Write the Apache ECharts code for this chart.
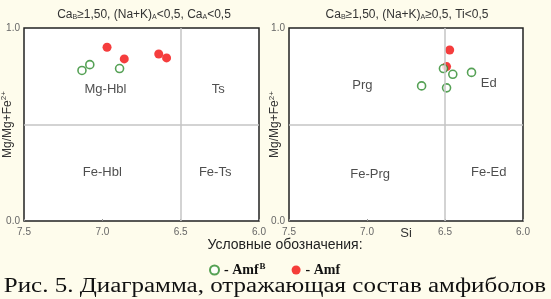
<!DOCTYPE html>
<html>
<head>
<meta charset="utf-8">
<script src="https://cdn.jsdelivr.net/npm/echarts@6/dist/echarts.min.js"></script>
<style>
  html, body { margin: 0; padding: 0; background: #fefcec; }
  #chart { width: 551px; height: 299px; }
</style>
</head>
<body>
<div id="chart"></div>
<script>
// ====== данные ======
var xTicks = [7.5, 7.0, 6.5, 6.0];
var yTicks = [0.0, 1.0];
var siBoundary = 6.5;   // граница Si
var mgBoundary = 0.5;   // граница Mg/Mg+Fe
// левая диаграмма
var leftAmfB = [[7.13, 0.78], [7.08, 0.81], [6.89, 0.79]];
var leftAmf = [[6.97, 0.90], [6.86, 0.84], [6.64, 0.865], [6.59, 0.845]];
var leftFields = [['Mg-Hbl', 6.98, 0.68], ['Ts', 6.26, 0.68], ['Fe-Hbl', 7.0, 0.25], ['Fe-Ts', 6.28, 0.25]];
// правая диаграмма
var rightAmfB = [[6.51, 0.79], [6.45, 0.76], [6.33, 0.77], [6.65, 0.70], [6.49, 0.69]];
var rightAmf = [[6.47, 0.886], [6.49, 0.80]];
var rightFields = [['Prg', 7.03, 0.70], ['Ed', 6.22, 0.715], ['Fe-Prg', 6.98, 0.24], ['Fe-Ed', 6.22, 0.25]];

var myChart = echarts.init(document.getElementById('chart'));

var sans = 'Liberation Sans, Arial, sans-serif';
var serif = 'Liberation Serif, Times New Roman, serif';
var greenColor = '#2b8a2b';
var redColor = '#f20c0c';

function makeX(idx, name) {
    return {
        gridIndex: idx,
        type: 'value',
        inverse: true,
        min: xTicks[xTicks.length - 1],
        max: xTicks[0],
        interval: 0.5,
        name: name,
        nameLocation: 'middle',
        nameGap: 6,
        nameMoveOverlap: false,
        nameTextStyle: { fontFamily: sans, fontSize: 13, color: '#333' },
        axisLine: { show: false },
        axisTick: { show: true, inside: true, length: 2, lineStyle: { color: '#999' } },
        splitLine: { show: false },
        axisLabel: {
            margin: 6, fontFamily: sans, fontSize: 10, color: '#666',
            formatter: function (v) { return v.toFixed(1); }
        }
    };
}

function makeY(idx, sup) {
    return {
        gridIndex: idx,
        type: 'value',
        min: yTicks[0],
        max: yTicks[yTicks.length - 1],
        interval: 1,
        name: 'Mg/Mg+Fe{s|2+}',
        nameLocation: 'middle',
        nameGap: 8,
        nameMoveOverlap: false,
        nameTextStyle: {
            fontFamily: sans, fontSize: 12, color: '#333',
            rich: { s: { fontFamily: sans, fontSize: 8, color: '#333', padding: sup } }
        },
        axisLine: { show: false },
        axisTick: { show: false },
        splitLine: { show: false },
        axisLabel: {
            margin: 4, fontFamily: sans, fontSize: 10, color: '#666',
            formatter: function (v) { return v.toFixed(1); }
        }
    };
}

function fieldSeries(idx, fields) {
    return {
        type: 'scatter',
        xAxisIndex: idx, yAxisIndex: idx,
        symbolSize: 0,
        silent: true,
        data: fields.map(function (f) { return { name: f[0], value: [f[1], f[2]] }; }),
        label: {
            show: true, position: 'inside', formatter: '{b}',
            fontFamily: sans, fontSize: 13, color: '#222'
        }
    };
}

function boundarySeries(idx) {
    return {
        type: 'scatter',
        xAxisIndex: idx, yAxisIndex: idx,
        data: [],
        markLine: {
            silent: true, symbol: 'none', animation: false,
            label: { show: false },
            lineStyle: { color: '#c4c4c4', width: 1.5, type: 'solid' },
            data: [{ xAxis: siBoundary }, { yAxis: mgBoundary }]
        }
    };
}

function amfSeries(idx, data) {
    return {
        name: 'Amf', type: 'scatter',
        xAxisIndex: idx, yAxisIndex: idx,
        symbol: 'circle', symbolSize: 9,
        itemStyle: { color: redColor },
        data: data
    };
}

function amfBSeries(idx, data) {
    return {
        name: 'AmfB', type: 'scatter',
        xAxisIndex: idx, yAxisIndex: idx,
        symbol: 'circle', symbolSize: 8,
        itemStyle: { color: '#ffffff', borderColor: greenColor, borderWidth: 1.6 },
        data: data
    };
}

var titleStyle = {
    fontFamily: sans, fontSize: 12, fontWeight: 'normal', color: '#333',
    rich: {
        n: { fontFamily: sans, fontSize: 12, color: '#333' },
        s: { fontFamily: sans, fontSize: 7, color: '#333', padding: [6, 0, 0, 0] }
    }
};

var option = {
    backgroundColor: '#fefcec',
    animation: false,
    title: [{
        text: '{n|Ca}{s|B}{n|≥1,50, (Na+K)}{s|A}{n|<0,5, Ca}{s|A}{n|<0,5}',
        left: 139, top: 3, textAlign: 'center',
        textStyle: titleStyle
    }, {
        text: '{n|Ca}{s|B}{n|≥1,50, (Na+K)}{s|A}{n|≥0,5, Ti<0,5}',
        left: 402, top: 3, textAlign: 'center',
        textStyle: titleStyle
    }, {
        text: 'Условные обозначения:',
        left: 280, top: 233, textAlign: 'center',
        textStyle: { fontFamily: sans, fontSize: 14, fontWeight: 'normal', color: '#222' }
    }],
    graphic: [{
        type: 'text',
        x: 275, y: 287,
        scaleX: 1.25,
        style: {
            text: 'Рис. 5. Диаграмма, отражающая состав амфиболов',
            fontFamily: serif, fontSize: 20, fill: '#111',
            align: 'center', verticalAlign: 'middle'
        }
    }],
    legend: {
        data: ['AmfB', 'Amf'],
        left: 204, top: 257,
        itemWidth: 9, itemHeight: 9, itemGap: 26,
        icon: 'circle',
        formatter: function (name) {
            return name === 'AmfB' ? '{b|- Amf}{s|B}' : '{b|- Amf}';
        },
        textStyle: {
            rich: {
                b: { fontFamily: serif, fontSize: 14, fontWeight: 'bold', color: '#111' },
                s: { fontFamily: serif, fontSize: 9, fontWeight: 'bold', color: '#111', padding: [0, 0, 7, 1] }
            }
        }
    },
    grid: [{
        left: 24, top: 28, width: 235, height: 193,
        containLabel: false, outerBoundsMode: 'none',
        show: true, backgroundColor: '#ffffff', borderColor: '#222', borderWidth: 1.5
    }, {
        left: 289, top: 28, width: 234, height: 193,
        containLabel: false, outerBoundsMode: 'none',
        show: true, backgroundColor: '#ffffff', borderColor: '#222', borderWidth: 1.5
    }],
    xAxis: [makeX(0, ''), makeX(1, 'Si')],
    yAxis: [makeY(0, [0, 0, 8, 0]), makeY(1, [0, 0, 5, 0])],
    series: [
        boundarySeries(0),
        boundarySeries(1),
        fieldSeries(0, leftFields),
        fieldSeries(1, rightFields),
        amfSeries(0, leftAmf),
        amfSeries(1, rightAmf),
        amfBSeries(0, leftAmfB),
        amfBSeries(1, rightAmfB)
    ]
};
myChart.setOption(option);
</script>
</body>
</html>
